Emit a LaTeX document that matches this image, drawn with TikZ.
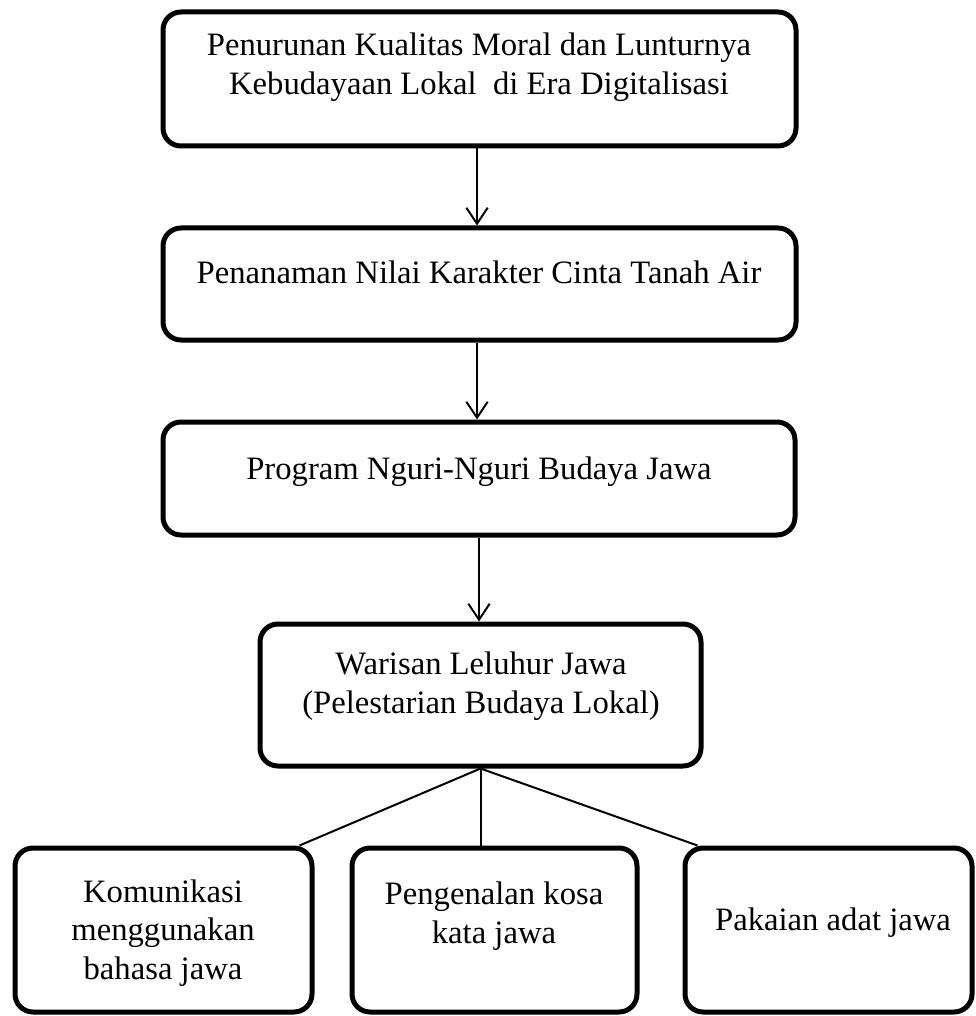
\documentclass[tikz,border=0pt]{standalone}
\usepackage{fontspec}
\setmainfont{Liberation Serif}
\usetikzlibrary{arrows.meta,calc}
\begin{document}
\begin{tikzpicture}[x=0.75pt,y=-0.75pt,
  box/.style={draw,line width=3.75pt,rounded corners=13.5pt,inner sep=0pt},
  txt/.style={align=center,font=\fontsize{24.5pt}{29pt}\selectfont,inner sep=0pt},
  arr/.style={line width=1.5pt,-{Straight Barb[width=16pt,length=12pt,line width=1.5pt]}},
  link/.style={line width=1.5pt}]
\useasboundingbox (0,0) rectangle (975,1016);
\node[box,minimum width=633*0.75pt,minimum height=134*0.75pt] (b1) at (479.5,79) {};
\node[box,minimum width=633*0.75pt,minimum height=112*0.75pt] (b2) at (479.5,284) {};
\node[box,minimum width=632*0.75pt,minimum height=113*0.75pt] (b3) at (479,478.5) {};
\node[box,minimum width=441*0.75pt,minimum height=142*0.75pt] (b4) at (480.5,695) {};
\node[box,minimum width=297*0.75pt,minimum height=164*0.75pt] (b5) at (163.5,930) {};
\node[box,minimum width=285*0.75pt,minimum height=164*0.75pt] (b6) at (494.5,930) {};
\node[box,minimum width=287*0.75pt,minimum height=164*0.75pt] (b7) at (828.5,930) {};
\node[txt] (t1) at (479,67) {Penurunan Kualitas Moral dan Lunturnya\\Kebudayaan Lokal\ \ di Era Digitalisasi};
\node[txt] (t2) at (479,272) {Penanaman Nilai Karakter Cinta Tanah Air};
\node[txt] (t3) at (479,472) {Program Nguri-Nguri Budaya Jawa};
\node[txt] (t4) at (481,686) {Warisan Leluhur Jawa\\(Pelestarian Budaya Lokal)};
\node[txt] (t5) at (163,933) {Komunikasi\\menggunakan\\bahasa jawa};
\node[txt] (t6) at (494,916) {Pengenalan kosa\\kata jawa};
\node[txt] (t7) at (833,923) {Pakaian adat jawa};
\draw[arr] (b1.south -| 477,0) -- (b2.north -| 477,0);
\draw[arr] (b2.south -| 477,0) -- (b3.north -| 477,0);
\draw[arr] (b3.south -| 479,0) -- (b4.north -| 479,0);
\draw[link] (b4.south) -- ($(b5.north east)+(-15,0)$);
\draw[link] (b4.south) -- (b4.south |- b6.north);
\draw[link] (b4.south) -- ($(b7.north west)+(15,0)$);
\end{tikzpicture}
\end{document}
